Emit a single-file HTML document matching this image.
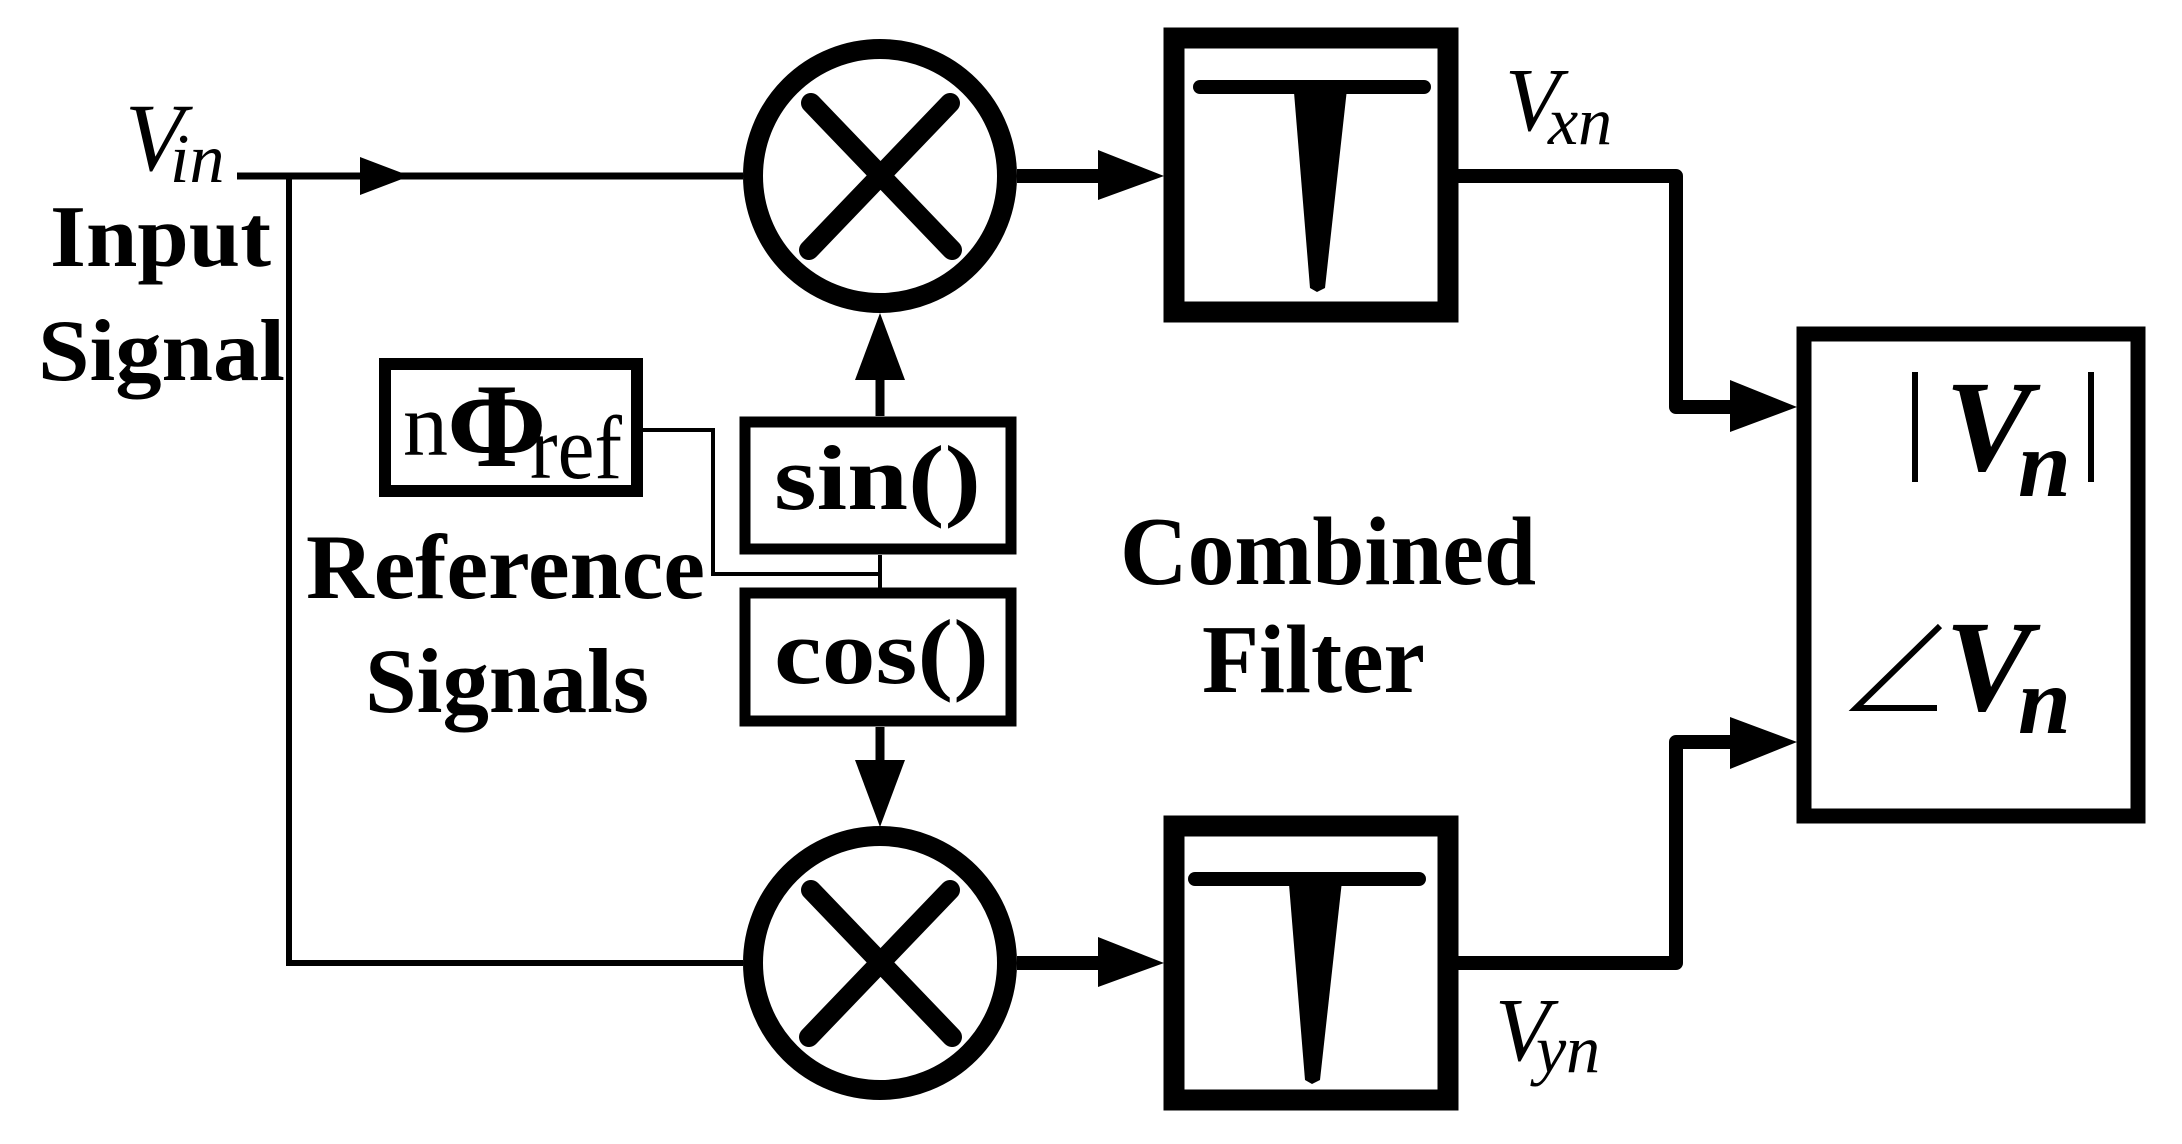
<!DOCTYPE html>
<html><head><meta charset="utf-8"><style>
html,body{margin:0;padding:0;background:#fff;}
svg{display:block;}
text{font-family:"Liberation Serif",serif;fill:#000;}
</style></head><body>
<svg width="2182" height="1144" viewBox="0 0 2182 1144" xmlns="http://www.w3.org/2000/svg">
<rect width="2182" height="1144" fill="#fff"/>
<!-- input lines -->
<polyline points="237,176 743,176" fill="none" stroke="#000" stroke-width="7"/>
<polyline points="289,176 289,963 743,963" fill="none" stroke="#000" stroke-width="6"/>
<polygon points="360,157 410,176 360,195" fill="#000"/>
<!-- multipliers -->
<g fill="none" stroke="#000">
<circle cx="880" cy="176" r="127" stroke-width="20"/>
<line x1="811" y1="103" x2="952" y2="250" stroke-width="20" stroke-linecap="round"/>
<line x1="950" y1="103" x2="809" y2="250" stroke-width="20" stroke-linecap="round"/>
<circle cx="880" cy="963" r="127" stroke-width="20"/>
<line x1="811" y1="890" x2="952" y2="1037" stroke-width="20" stroke-linecap="round"/>
<line x1="950" y1="890" x2="809" y2="1037" stroke-width="20" stroke-linecap="round"/>
</g>
<!-- to filters -->
<line x1="1017" y1="176" x2="1110" y2="176" stroke="#000" stroke-width="14"/>
<polygon points="1098,150 1164,176 1098,200" fill="#000"/>
<line x1="1017" y1="963" x2="1110" y2="963" stroke="#000" stroke-width="14"/>
<polygon points="1098,937 1164,963 1098,987" fill="#000"/>
<!-- filters -->
<g>
<rect x="1174" y="38" width="274" height="274" fill="none" stroke="#000" stroke-width="21"/>
<line x1="1200" y1="87" x2="1424" y2="87" stroke="#000" stroke-width="14" stroke-linecap="round"/>
<polygon points="1293,80 1348,80 1325,288 1317,292 1310,288" fill="#000"/>
<rect x="1174" y="826" width="274" height="274" fill="none" stroke="#000" stroke-width="21"/>
<line x1="1195" y1="879" x2="1419" y2="879" stroke="#000" stroke-width="14" stroke-linecap="round"/>
<polygon points="1288,872 1343,872 1320,1080 1312,1084 1305,1080" fill="#000"/>
</g>
<!-- outputs -->
<polyline points="1458,176 1676,176 1676,407 1740,407" fill="none" stroke="#000" stroke-width="14" stroke-linejoin="round"/>
<polygon points="1730,380 1797,407 1730,432" fill="#000"/>
<polyline points="1458,963 1676,963 1676,742 1740,742" fill="none" stroke="#000" stroke-width="14" stroke-linejoin="round"/>
<polygon points="1730,717 1797,742 1730,769" fill="#000"/>
<rect x="1804" y="334" width="334" height="482" fill="none" stroke="#000" stroke-width="15"/>
<!-- reference blocks -->
<rect x="385" y="364" width="252" height="127" fill="none" stroke="#000" stroke-width="12"/>
<rect x="745" y="422" width="266" height="127" fill="none" stroke="#000" stroke-width="11"/>
<rect x="745" y="593" width="266" height="128" fill="none" stroke="#000" stroke-width="11"/>
<polyline points="643,430 713,430 713,574 880,574" fill="none" stroke="#000" stroke-width="4"/>
<line x1="880" y1="555" x2="880" y2="588" stroke="#000" stroke-width="4"/>
<line x1="880" y1="416" x2="880" y2="375" stroke="#000" stroke-width="9"/>
<polygon points="855,380 880,313 905,380" fill="#000"/>
<line x1="880" y1="727" x2="880" y2="765" stroke="#000" stroke-width="9"/>
<polygon points="855,760 880,827 905,760" fill="#000"/>
<!-- text -->
<text x="125" y="170" font-size="96" font-style="italic">V</text>
<text x="170" y="182" font-size="70" font-style="italic">in</text>
<text x="50" y="266" font-size="88" font-weight="bold" textLength="221" lengthAdjust="spacingAndGlyphs">Input</text>
<text x="38" y="380" font-size="88" font-weight="bold" textLength="247" lengthAdjust="spacingAndGlyphs">Signal</text>
<text x="403" y="455" font-size="90">n</text>
<text x="447" y="466" font-size="120" font-weight="bold">Φ</text>
<text x="530" y="478" font-size="90" textLength="92" lengthAdjust="spacingAndGlyphs">ref</text>
<text x="774" y="509" font-size="92" font-weight="bold" textLength="207" lengthAdjust="spacingAndGlyphs">sin()</text>
<text x="774" y="683" font-size="92" font-weight="bold" textLength="215" lengthAdjust="spacingAndGlyphs">cos()</text>
<text x="306" y="598" font-size="92" font-weight="bold" textLength="399" lengthAdjust="spacingAndGlyphs">Reference</text>
<text x="365" y="712" font-size="92" font-weight="bold" textLength="284" lengthAdjust="spacingAndGlyphs">Signals</text>
<text x="1120" y="584" font-size="98" font-weight="bold" textLength="416" lengthAdjust="spacingAndGlyphs">Combined</text>
<text x="1202" y="692" font-size="98" font-weight="bold" textLength="223" lengthAdjust="spacingAndGlyphs">Filter</text>
<text x="1505" y="130" font-size="90" font-style="italic">V</text>
<text x="1548" y="144" font-size="68" font-style="italic">xn</text>
<text x="1495" y="1060" font-size="90" font-style="italic">V</text>
<text x="1536" y="1072" font-size="68" font-style="italic">yn</text>
<line x1="1915" y1="372" x2="1915" y2="482" stroke="#000" stroke-width="6"/>
<text x="1945" y="470" font-size="130" font-style="italic" font-weight="bold">V</text>
<text x="2018" y="496" font-size="95" font-style="italic" font-weight="bold">n</text>
<line x1="2091" y1="372" x2="2091" y2="482" stroke="#000" stroke-width="6"/>
<polyline points="1940,626 1856,708 1937,708" fill="none" stroke="#000" stroke-width="6"/>
<text x="1945" y="710" font-size="130" font-style="italic" font-weight="bold">V</text>
<text x="2018" y="733" font-size="95" font-style="italic" font-weight="bold">n</text>
</svg>
</body></html>
